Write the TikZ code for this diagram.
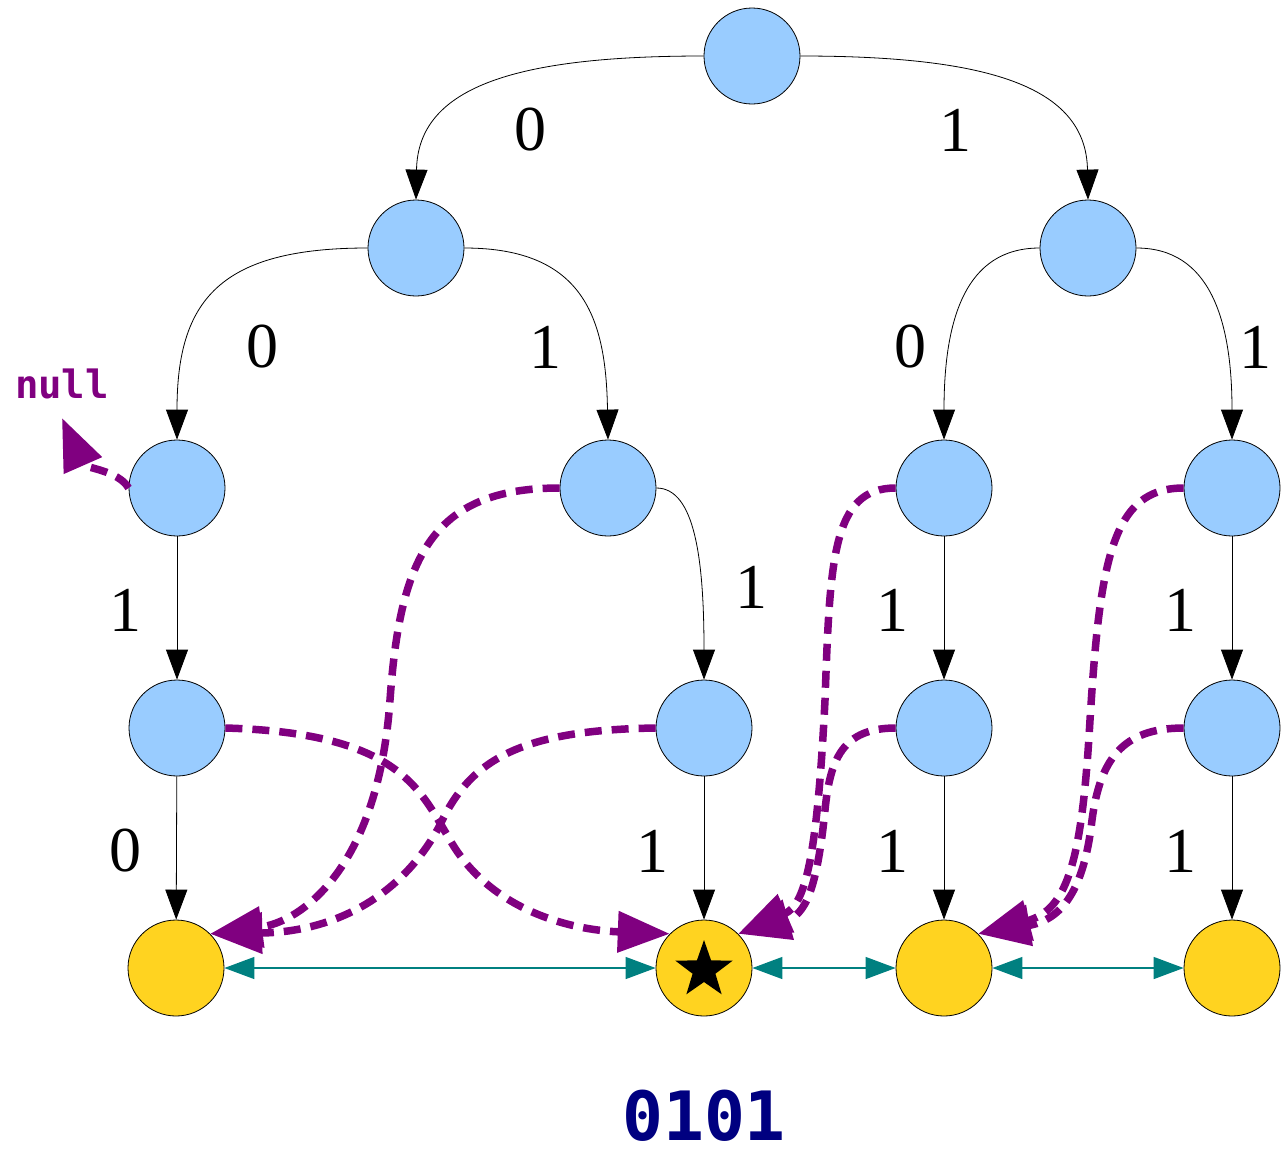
\documentclass[tikz,border=0pt]{standalone}
\usepackage{fontspec}
\setmainfont{Liberation Serif}
\newfontfamily\codefont{DejaVu Sans Mono}
\usetikzlibrary{arrows.meta,shapes.geometric}
\definecolor{nodeblue}{RGB}{153,204,255}
\definecolor{leafyellow}{RGB}{255,211,32}
\definecolor{linkpurple}{RGB}{128,0,128}
\definecolor{threadteal}{RGB}{0,128,128}
\definecolor{codenavy}{RGB}{0,0,128}
\begin{document}
\begin{tikzpicture}[x=1pt,y=-1pt,
  inner/.style={circle,draw=black,line width=0.8pt,fill=nodeblue,minimum size=96pt,inner sep=0pt},
  leaf/.style={circle,draw=black,line width=0.8pt,fill=leafyellow,minimum size=96pt,inner sep=0pt},
  edge/.style={line width=0.8pt,-{Triangle[length=30pt,width=22pt]}},
  bit/.style={font=\fontsize{64}{64}\selectfont},
  link/.style={linkpurple,line width=7.5pt,dash pattern=on 17pt off 10pt,-{Triangle[length=52pt,width=40pt]}},
  thread/.style={threadteal,line width=1.4pt,{Triangle[length=30pt,width=22pt]}-{Triangle[length=30pt,width=22pt]}}]
\useasboundingbox (0,0) rectangle (1287,1149);

% trie nodes
\node[inner] (root) at (752,56) {};
\node[inner] (n0) at (416,248) {};
\node[inner] (n1) at (1088,248) {};
\node[inner] (n00) at (177,488) {};
\node[inner] (n01) at (608,488) {};
\node[inner] (n10) at (944,488) {};
\node[inner] (n11) at (1232,488) {};
\node[inner] (n001) at (177,728) {};
\node[inner] (n011) at (704,728) {};
\node[inner] (n101) at (944,728) {};
\node[inner] (n111) at (1232,728) {};
\node[leaf] (l0010) at (176,968) {};
\node[leaf] (l0111) at (704,968) {};
\node[leaf] (l1011) at (944,968) {};
\node[leaf] (l1111) at (1232,968) {};
\node[star,star points=5,star point ratio=2.5,fill=black,inner sep=0pt,minimum size=60pt] (mark) at (704,970) {};

% child edges
\draw[edge] (root.west) .. controls (520,56) and (418,85) .. (n0.north);
\draw[edge] (root.east) .. controls (985,56) and (1086,85) .. (n1.north);
\draw[edge] (n0.west) .. controls (220,248) and (177,300) .. (n00.north);
\draw[edge] (n0.east) .. controls (585,248) and (606,320) .. (n01.north);
\draw[edge] (n1.west) .. controls (965,248) and (944,320) .. (n10.north);
\draw[edge] (n1.east) .. controls (1210,248) and (1232,320) .. (n11.north);
\draw[edge] (n01.east) .. controls (695,488) and (704,560) .. (n011.north);
\draw[edge] (n00) -- (n001);
\draw[edge] (n10) -- (n101);
\draw[edge] (n11) -- (n111);
\draw[edge] (n001) -- (l0010);
\draw[edge] (n011) -- (l0111);
\draw[edge] (n101) -- (l1011);
\draw[edge] (n111) -- (l1111);

% edge bits
\node[bit] (b0) at (530,130) {0};
\node[bit] (b1) at (955,130) {1};
\node[bit] (b00) at (262,347) {0};
\node[bit] (b01) at (545,347) {1};
\node[bit] (b10) at (910,347) {0};
\node[bit] (b11) at (1255,347) {1};
\node[bit] (b001) at (125,610) {1};
\node[bit] (b011) at (751,587) {1};
\node[bit] (b101) at (892,610) {1};
\node[bit] (b111) at (1180,610) {1};
\node[bit] (b0010) at (125,851) {0};
\node[bit] (b0111) at (652,851) {1};
\node[bit] (b1011) at (892,851) {1};
\node[bit] (b1111) at (1180,851) {1};

% jump pointers
\node[linkpurple,inner sep=0pt,font=\codefont\bfseries\fontsize{39}{39}\selectfont] (null) at (62,384) {null};
\coordinate (nullend) at (62,418);
\draw[link] (n00.west) .. controls (118,470) and (84,468) .. (nullend);
\draw[link] (n01.west) .. controls (430,488) and (400,560) .. (390,700)
  .. controls (378,870) and (300,922) .. (l0010.45);
\draw[link] (n001.east) .. controls (400,733) and (420,790) .. (450,840)
  .. controls (490,910) and (570,930) .. (l0111.135);
\draw[link] (n011.west) .. controls (520,730) and (470,760) .. (440,825)
  .. controls (400,900) and (330,932) .. (l0010.45);
\draw[link] (n10.west) .. controls (832,488) and (830,560) .. (825,700)
  .. controls (817,860) and (805,905) .. (l0111.45);
\draw[link] (n101.west) .. controls (842,728) and (830,760) .. (825,810)
  .. controls (817,890) and (805,915) .. (l0111.45);
\draw[link] (n11.west) .. controls (1112,488) and (1100,560) .. (1090,720)
  .. controls (1082,860) and (1068,910) .. (l1011.45);
\draw[link] (n111.west) .. controls (1122,728) and (1100,760) .. (1092,820)
  .. controls (1084,890) and (1062,920) .. (l1011.45);

% leaf threads
\draw[thread] (l0010) -- (l0111);
\draw[thread] (l0111) -- (l1011);
\draw[thread] (l1011) -- (l1111);

% key
\node[codenavy,inner sep=0pt,anchor=base,text depth=0pt,font=\codefont\bfseries\fontsize{68}{68}\selectfont] (key) at (704,1140) {0101};
\end{tikzpicture}
\end{document}
